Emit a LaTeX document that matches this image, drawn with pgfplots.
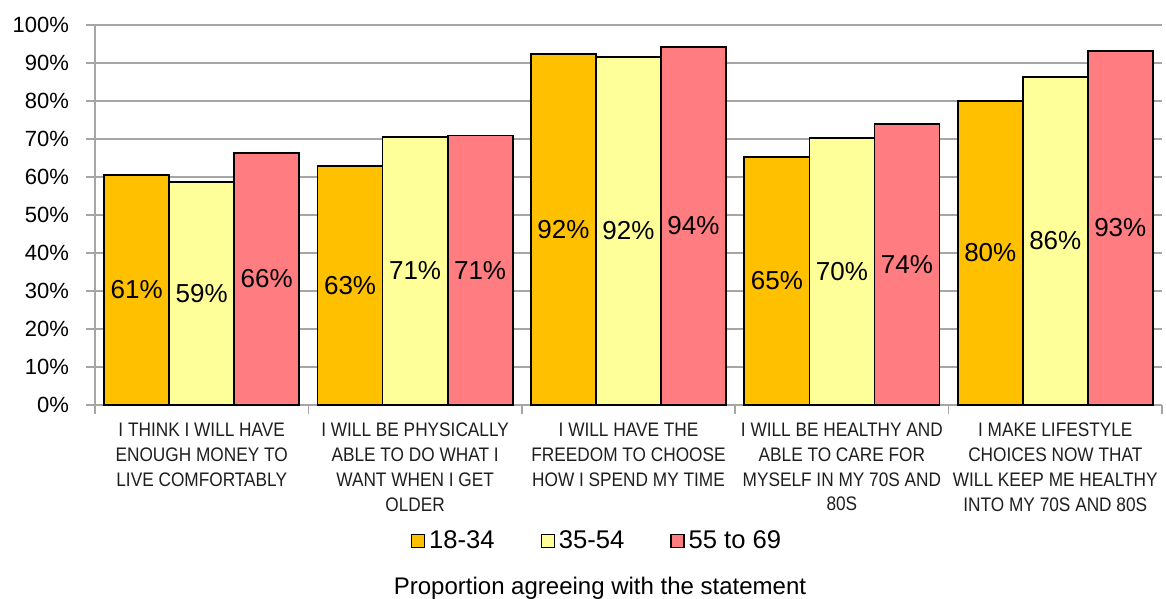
\documentclass[border=0pt]{standalone}
\usepackage{pgfplots}
\usepackage{pgfplotstable}
\pgfplotsset{compat=1.18}
\usepackage{fontspec}
\setmainfont{Liberation Sans}
\newfontfamily\narrowfont[FakeStretch=0.88]{Liberation Sans}
\definecolor{cA}{HTML}{FFC000}
\definecolor{cB}{HTML}{FFFF99}
\definecolor{cC}{HTML}{FF7C80}
\definecolor{gridgray}{HTML}{A6A6A6}
\definecolor{labgray}{HTML}{1E1E1E}

\pgfplotstableread{
x a b c
0 60.6 58.7 66.4
1 62.9 70.6 70.9
2 92.3 91.6 94.3
3 65.3 70.3 74.0
4 80.1 86.4 93.2
}\datatable

\begin{document}
\begin{tikzpicture}
\begin{axis}[
  name=ax,
  scale only axis,
  width=533.5pt, height=190pt,
  xmin=-0.5, xmax=4.5, ymin=0, ymax=100,
  enlargelimits=false,
  axis x line*=bottom, axis y line*=left,
  axis line style={draw=gridgray, line width=0.75pt},
  ymajorgrids, grid style={draw=gridgray, line width=0.75pt},
  tick align=outside,
  major tick length=4.5pt,
  tick style={draw=gridgray, line width=0.75pt},
  ytick={0,10,...,100},
  yticklabel={\pgfmathprintnumber{\tick}\%},
  yticklabel style={font=\fontsize{11}{13}\selectfont, xshift=-5pt},
  /pgf/number format/assume math mode=true,
  xtick={-0.5,0.5,1.5,2.5,3.5,4.5},
  xticklabels={},
  extra x ticks={0,1,2,3,4},
  extra x tick style={major tick length=0pt, tick label style={font=\narrowfont\fontsize{9.8}{12.4}\selectfont, text=labgray, align=center, anchor=north, yshift=-5.5pt}},
  extra x tick labels={{I THINK I WILL HAVE\\ENOUGH MONEY TO\\LIVE COMFORTABLY},{I WILL BE PHYSICALLY\\ABLE TO DO WHAT I\\WANT WHEN I GET\\OLDER},{I WILL HAVE THE\\FREEDOM TO CHOOSE\\HOW I SPEND MY TIME},{I WILL BE HEALTHY AND\\ABLE TO CARE FOR\\MYSELF IN MY 70S AND\\80S},{I MAKE LIFESTYLE\\CHOICES NOW THAT\\WILL KEEP ME HEALTHY\\INTO MY 70S AND 80S}},
  ybar=0pt, bar width=32.5pt,
  point meta=y,
  nodes near coords={\pgfmathprintnumber[fixed,precision=0]{\pgfplotspointmeta}\%},
  nodes near coords style={anchor=center, font=\fontsize{13}{15}\selectfont, text=black, yshift={-0.95*\rawy*1pt}},
  legend style={at={(0.4715,-0.358)}, anchor=center, draw=none, font=\fontsize{12.8}{15}\selectfont, legend columns=-1, /tikz/every even column/.append style={column sep=21pt}},
  legend image code/.code={\draw[#1, line width=0.6pt] (0pt,-3.25pt) rectangle (6.5pt,3.25pt);},
]
\addplot[fill=cA, draw=black, line width=0.9pt, visualization depends on={\thisrow{a} \as \rawy}] table[x=x,y=a]{\datatable};
\addlegendentry{18-34}
\addplot[fill=cB, draw=black, line width=0.9pt, visualization depends on={\thisrow{b} \as \rawy}] table[x=x,y=b]{\datatable};
\addlegendentry{35-54}
\addplot[fill=cC, draw=black, line width=0.9pt, visualization depends on={\thisrow{c} \as \rawy}] table[x=x,y=c]{\datatable};
\addlegendentry{55 to 69}
\end{axis}
\node[font=\fontsize{12}{14}\selectfont, anchor=center] at ([shift={(252.5pt,-91.5pt)}]ax.south west) {Proportion agreeing with the statement};
\pgfresetboundingbox
\path[use as bounding box] ([shift={(-47.5pt,-97pt)}]ax.south west) rectangle ([shift={(535.5pt,202.5pt)}]ax.south west);
\end{tikzpicture}
\end{document}
